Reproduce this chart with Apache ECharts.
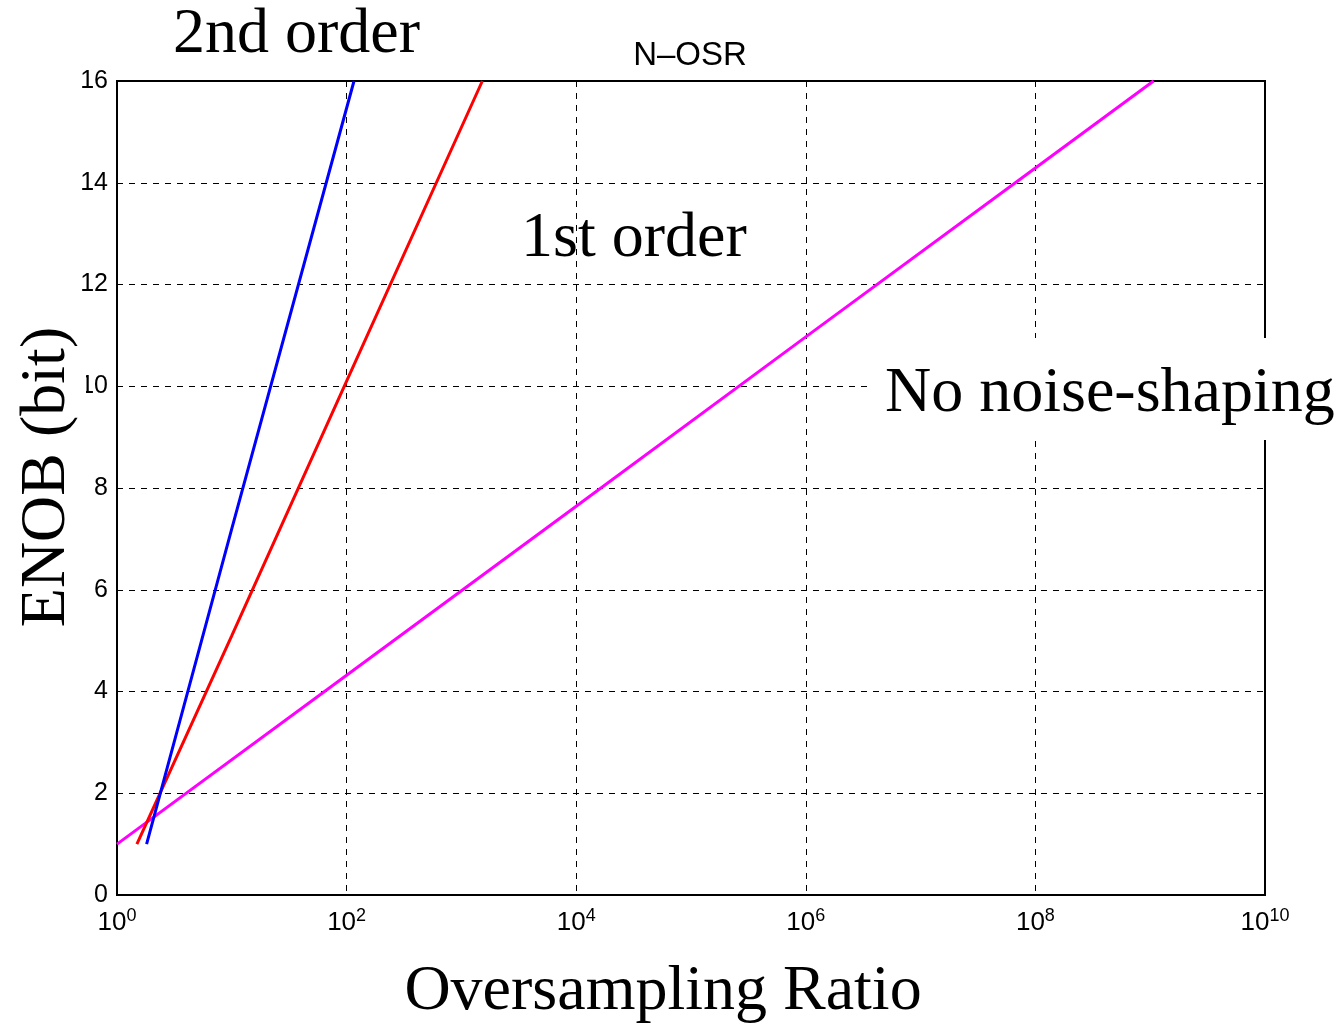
<!DOCTYPE html>
<html>
<head>
<meta charset="utf-8">
<script src="https://cdn.jsdelivr.net/npm/echarts@6/dist/echarts.min.js"></script>
<style>
  html, body { margin: 0; padding: 0; background: #fff; }
  #chart { width: 1344px; height: 1027px; }
</style>
</head>
<body>
<div id="chart"></div>
<script>
// ENOB versus oversampling ratio: [OSR, ENOB] points along each curve
var noShaping = [[1, 1], [100, 4.32], [1e4, 7.64], [1e6, 10.97], [1e8, 14.29], [1.07e9, 16]];
var firstOrder = [[1.49, 1], [10, 5.1], [100, 10.1], [1522, 16]];
var secondOrder = [[1.81, 1], [10, 7.2], [116, 16]];

var yTicks = [0, 2, 4, 6, 8, 10, 12, 14, 16];
var xExponents = [0, 2, 4, 6, 8, 10];

var serif = '"Liberation Serif", "Times New Roman", serif';
var sans = '"Liberation Sans", Arial, sans-serif';

var chart = echarts.init(document.getElementById('chart'));

var dashed = { show: true, lineStyle: { color: '#000', type: [6, 6], width: 1 } };

// free text placed by the top of its line box
function label(text, x, top, size, family, align) {
  return {
    type: 'text', x: x, y: top, z: 100,
    style: { text: text, font: size + 'px ' + family, fill: '#000',
             textAlign: align || 'left', verticalAlign: 'top' }
  };
}

chart.setOption({
  animation: false,
  backgroundColor: '#fff',
  grid: {
    left: 117, right: 79, top: 81, bottom: 132,
    containLabel: false, outerBoundsMode: 'none',
    show: true, borderColor: '#000', borderWidth: 2, backgroundColor: 'transparent'
  },
  xAxis: {
    type: 'log', logBase: 10, min: 1, max: 1e10, interval: 2,
    axisLine: { show: true, lineStyle: { color: '#000', width: 2 } },
    axisTick: { show: false },
    splitLine: dashed,
    axisLabel: {
      margin: 12,
      color: '#000', fontFamily: sans, fontSize: 26,
      formatter: function (v) {
        var e = Math.round(Math.log10(v));
        return xExponents.indexOf(e) >= 0 ? '10{sup|' + e + '}' : '';
      },
      rich: {
        sup: { fontFamily: sans, fontSize: 18, color: '#000', verticalAlign: 'top', padding: [0, 0, 14, 0] }
      }
    }
  },
  yAxis: {
    type: 'value', min: 0, max: 16, interval: 2,
    axisLine: { show: true, lineStyle: { color: '#000', width: 2 } },
    axisTick: { show: false },
    splitLine: dashed,
    axisLabel: {
      margin: 9, color: '#000', fontFamily: sans, fontSize: 25,
      formatter: function (v) { return yTicks.indexOf(v) >= 0 ? String(v) : ''; }
    }
  },
  graphic: [
    label('N\u2013OSR', 690, 39, 33, sans, 'center'),
    label('2nd order', 173, 3, 64, serif),
    label('1st order', 521, 207, 64, serif),
    { type: 'rect', shape: { x: 868, y: 338, width: 476, height: 102 }, z: 99,
      style: { fill: '#fff' } },
    label('No noise-shaping', 885, 362, 64, serif),
    label('Oversampling Ratio', 663, 960, 64, serif, 'center'),
    { type: 'rect', shape: { x: 0, y: 322, width: 86, height: 310 }, z: 99,
      style: { fill: '#fff' } },
    { type: 'text', x: 15, y: 477, rotation: Math.PI / 2, z: 100,
      style: { text: 'ENOB (bit)', font: '64px ' + serif, fill: '#000',
               textAlign: 'center', verticalAlign: 'top' } }
  ],
  series: [
    { type: 'line', data: noShaping, showSymbol: false, lineStyle: { color: '#ff00ff', width: 3 }, z: 2 },
    { type: 'line', data: firstOrder, showSymbol: false, lineStyle: { color: '#ff0000', width: 3 }, z: 3 },
    { type: 'line', data: secondOrder, showSymbol: false, lineStyle: { color: '#0000ff', width: 3 }, z: 4 }
  ]
});
</script>
</body>
</html>
